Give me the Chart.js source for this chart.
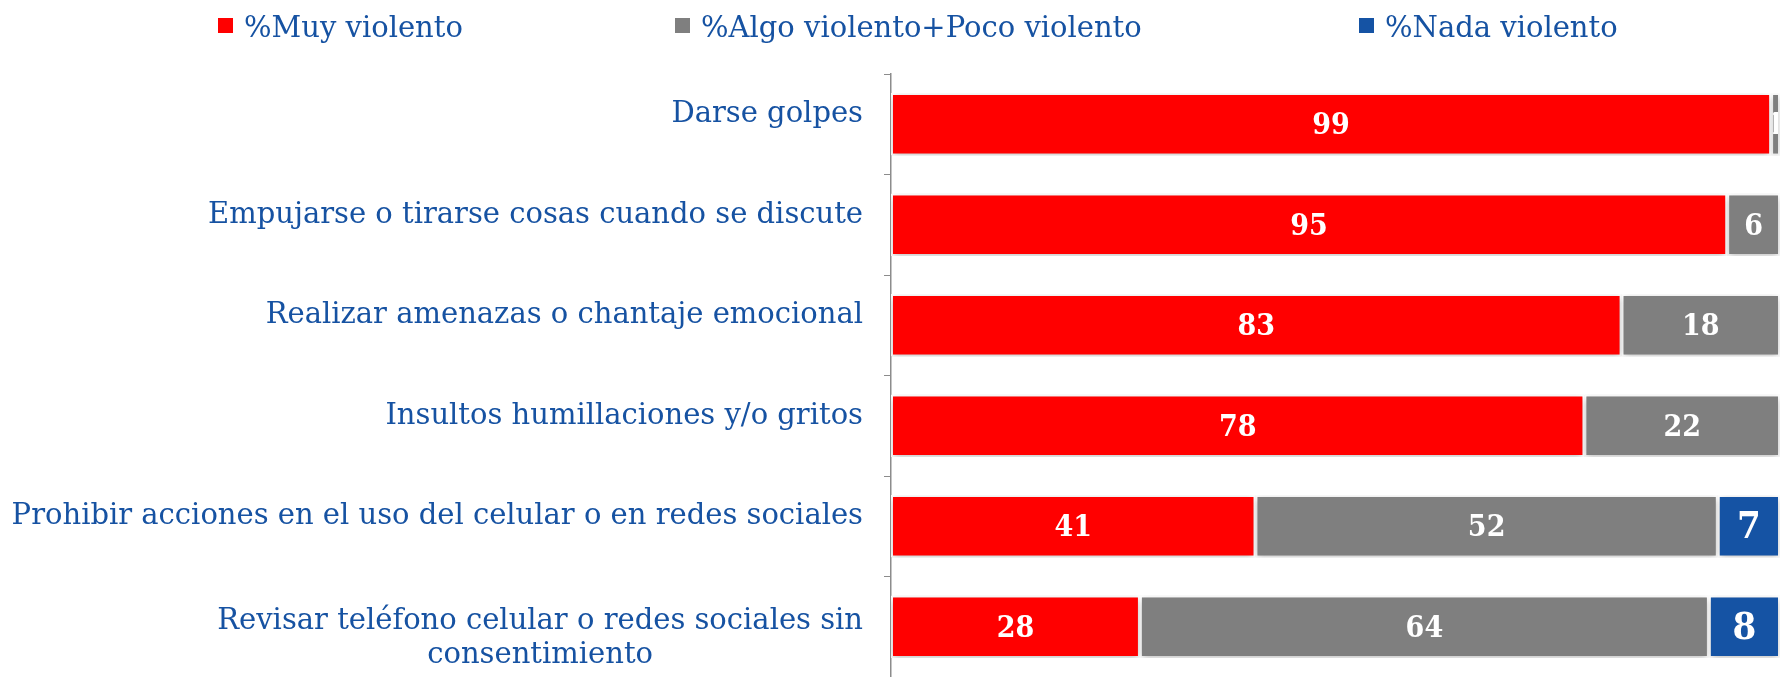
<!DOCTYPE html>
<html>
<head>
<meta charset="utf-8">
<script src="https://cdn.jsdelivr.net/npm/chart.js@4.4.1/dist/chart.umd.min.js"></script>
<style>
  html, body { margin: 0; padding: 0; background: #fff; }
  #wrap { width: 1786px; height: 677px; }
</style>
</head>
<body>
<div id="wrap"><canvas id="myChart" width="1786" height="677"></canvas></div>
<script>
let categories = [
  'Darse golpes',
  'Empujarse o tirarse cosas cuando se discute',
  'Realizar amenazas o chantaje emocional',
  'Insultos humillaciones y/o gritos',
  'Prohibir acciones en el uso del celular o en redes sociales',
  ['Revisar teléfono celular o redes sociales sin', 'consentimiento']
];
let seriesNames = ['%Muy violento', '%Algo violento+Poco violento', '%Nada violento'];
let muyViolento = [99, 95, 83, 78, 41, 28];
let algoPocoViolento = [1, 6, 18, 22, 52, 64];
let nadaViolento = [0, 0, 0, 0, 7, 8];

let colors = ['#ff0000', '#7f7f7f', '#1553a4'];
let textBlue = '#1652a2';
let fontFam = '"DejaVu Serif", serif';
let fontCond = '"DejaVu Serif Condensed", "DejaVu Serif", serif';

// 100% stacked: each row scaled to its own total
let raw = [muyViolento, algoPocoViolento, nadaViolento];
let totals = categories.map((c, i) => raw.reduce((s, arr) => s + arr[i], 0));
function pct(arr) { return arr.map((v, i) => v / totals[i] * 100); }

const shadowPlugin = {
  id: 'shadow',
  beforeDatasetsDraw(chart) {
    let ctx = chart.ctx;
    ctx.save();
    ctx.shadowColor = 'rgba(0,0,0,0.28)';
    ctx.shadowBlur = 7;
    ctx.shadowOffsetY = 2;
  },
  afterDatasetsDraw(chart) {
    chart.ctx.restore();
  }
};

const valueLabels = {
  id: 'valueLabels',
  afterDatasetsDraw(chart) {
    let ctx = chart.ctx;
    chart.data.datasets.forEach((ds, di) => {
      let meta = chart.getDatasetMeta(di);
      meta.data.forEach((bar, i) => {
        let v = ds.rawValues[i];
        if (!v) return;
        let x0 = Math.min(bar.x, bar.base), x1 = Math.max(bar.x, bar.base);
        let h = bar.height;
        ctx.save();
        ctx.beginPath();
        ctx.rect(x0 + 2, bar.y - h / 2, x1 - x0 - 4, h);
        ctx.clip();
        ctx.fillStyle = '#fff';
        ctx.font = 'bold ' + (di == 2 ? 38 : 30) + 'px ' + fontCond;
        ctx.textAlign = 'center';
        ctx.textBaseline = 'middle';
        ctx.fillText(String(v), (x0 + x1) / 2, bar.y + 2);
        ctx.restore();
      });
    });
  }
};

const catLabels = {
  id: 'catLabels',
  afterDraw(chart) {
    let ctx = chart.ctx;
    let yScale = chart.scales.y;
    ctx.save();
    ctx.fillStyle = textBlue;
    ctx.font = '29px ' + fontFam;
    ctx.textAlign = 'right';
    ctx.textBaseline = 'alphabetic';
    chart.data.labels.forEach((lab, i) => {
      let lines = Array.isArray(lab) ? lab : [lab];
      let y = yScale.getPixelForValue(i) - 2 + (lines.length > 1 ? 4 : 0);
      lines.forEach((ln, k) => {
        if (k > 0) {
          // wrapped lines centred under the first one
          let w0 = ctx.measureText(lines[0]).width;
          ctx.textAlign = 'center';
          ctx.fillText(ln, 863 - w0 / 2, y + k * 34);
          ctx.textAlign = 'right';
        } else {
          ctx.fillText(ln, 863, y);
        }
      });
    });
    ctx.restore();
  }
};

const topLegend = {
  id: 'topLegend',
  afterDraw(chart) {
    let ctx = chart.ctx;
    let boxX = [218, 675, 1359];
    ctx.save();
    ctx.font = '29px ' + fontFam;
    ctx.textBaseline = 'alphabetic';
    ctx.textAlign = 'left';
    chart.data.datasets.forEach((ds, i) => {
      ctx.fillStyle = ds.backgroundColor;
      ctx.fillRect(boxX[i], 18, 15, 15);
      ctx.fillStyle = textBlue;
      ctx.fillText(ds.label, boxX[i] + 26, 37);
    });
    ctx.restore();
  }
};

const ctx = document.getElementById('myChart').getContext('2d');
const myChart = new Chart(ctx, {
  type: 'bar',
  data: {
    labels: categories,
    datasets: raw.map((arr, i) => ({
      label: seriesNames[i],
      data: pct(arr),
      rawValues: arr,
      backgroundColor: colors[i],
      borderColor: '#ffffff',
      borderWidth: 2,
      borderSkipped: false,
      barPercentage: 0.62,
      categoryPercentage: 1
    }))
  },
  options: {
    indexAxis: 'y',
    responsive: false,
    animation: false,
    layout: { padding: { top: 74, bottom: -4, left: 0, right: 6 } },
    plugins: {
      legend: { display: false },
      tooltip: { enabled: false }
    },
    scales: {
      x: { stacked: true, min: 0, max: 100, display: false },
      y: {
        stacked: true,
        ticks: { display: false },
        grid: { drawOnChartArea: false, tickLength: 7, color: '#8c8c8c', offset: true },
        border: { color: '#8c8c8c', width: 1.5 },
        afterFit(scale) { scale.width = 891; }
      }
    }
  },
  plugins: [shadowPlugin, valueLabels, catLabels, topLegend]
});
</script>
</body>
</html>
